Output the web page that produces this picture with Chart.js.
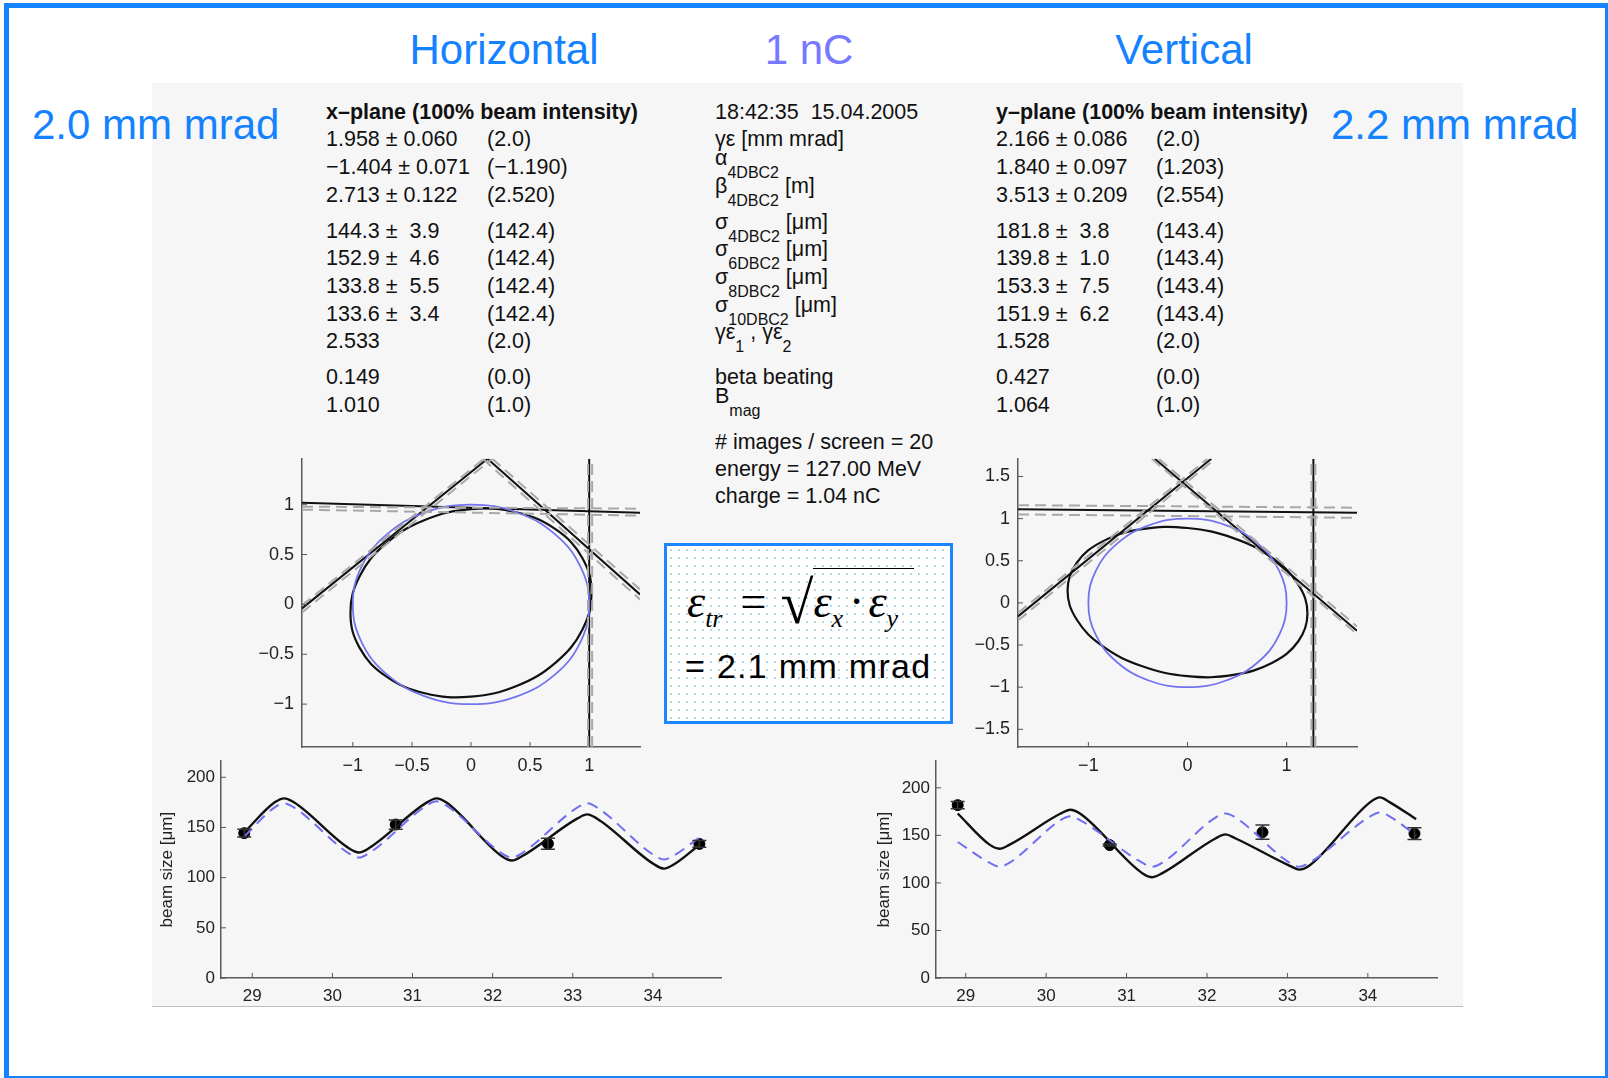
<!DOCTYPE html>
<html>
<head>
<meta charset="utf-8">
<title>Emittance 15.04.2005</title>
<script src="https://cdn.jsdelivr.net/npm/chart.js@4.4.1/dist/chart.umd.min.js"></script>
<style>
  html, body { margin: 0; padding: 0; }
  body { width: 1608px; height: 1078px; position: relative; overflow: hidden; background: #fff;
         font-family: "Liberation Sans", Arial, sans-serif; }
  #frame { position: absolute; left: 4px; top: 3px; width: 1606px; height: 1078px;
           border: 5px solid #1684ff; box-sizing: border-box; }
  #panel { position: absolute; left: 152px; top: 83px; width: 1311px; height: 923px;
           background: #f6f6f6; border-bottom: 1.5px solid #bdbdbd; }
  .big { position: absolute; font-size: 42px; line-height: 1; color: #1482ff; white-space: nowrap; }
  .t { position: absolute; font-size: 21.5px; line-height: 21px; color: #111; white-space: pre; }
  .t b { font-weight: bold; }
  .t sub { font-size: 16px; vertical-align: baseline; position: relative; top: 4px; }
  .r { position: relative; top: -9px; }
  canvas { position: absolute; }
  #box { position: absolute; left: 664px; top: 543px; width: 289px; height: 181px; box-sizing: border-box;
         border: 3px solid #1a86ff; background-color: #fff;
         background-image: radial-gradient(circle, #b2dae6 1.1px, transparent 1.5px); background-size: 8px 8px; }
  #f1 { position: absolute; left: 20px; top: 27px; font-family: "Liberation Serif", serif; font-size: 46px;
        line-height: 1; white-space: nowrap; color: #000; }
  #f1 i { font-style: italic; }
  .fs { font-size: 26px; font-style: italic; vertical-align: -10px; }
  .eq { margin: 0 14px 0 18px; }
  .rt { font-size: 60px; vertical-align: -6px; }
  .ov { border-top: 1.5px solid #000; padding-top: 7px; padding-right: 16px; }
  .dot { margin: 0 4px 0 6px; }
  #f2 { position: absolute; left: 18px; top: 103px; font-size: 34px; line-height: 1; letter-spacing: 1.3px;
        white-space: nowrap; color: #000; }
</style>
</head>
<body>
<div id="frame"></div>
<div id="panel"></div>

<div class="big" style="left:504px; top:29px; transform:translateX(-50%);">Horizontal</div>
<div class="big" style="left:809px; top:29px; transform:translateX(-50%); color:#7878ff;">1 nC</div>
<div class="big" style="left:1184px; top:29px; transform:translateX(-50%);">Vertical</div>
<div class="big" style="left:32px; top:104px;">2.0 mm mrad</div>
<div class="big" style="left:1331px; top:104px;">2.2 mm mrad</div>

<div id="box">
  <div id="f1"><i>ε</i><span class="fs">tr</span><span class="eq">=</span><span class="rt">√</span><span class="ov"><i>ε</i><span class="fs">x</span><span class="dot">·</span><i>ε</i><span class="fs">y</span></span></div>
  <div id="f2">= 2.1 mm mrad</div>
</div>

<canvas id="phx"></canvas>
<canvas id="phy"></canvas>
<canvas id="bsx"></canvas>
<canvas id="bsy"></canvas>

<script>
// ---- table text (values as printed on the fit output) ----
const rowY = [111, 138, 166, 194, 230, 257, 285, 313, 340, 376, 404];
const xVals = ['<b>x–plane (100% beam intensity)</b>', '1.958 ± 0.060', '−1.404 ± 0.071', '2.713 ± 0.122',
  '144.3 ±  3.9', '152.9 ±  4.6', '133.8 ±  5.5', '133.6 ±  3.4', '2.533', '0.149', '1.010'];
const xDesign = ['', '(2.0)', '(−1.190)', '(2.520)', '(142.4)', '(142.4)', '(142.4)', '(142.4)', '(2.0)', '(0.0)', '(1.0)'];
const yVals = ['<b>y–plane (100% beam intensity)</b>', '2.166 ± 0.086', '1.840 ± 0.097', '3.513 ± 0.209',
  '181.8 ±  3.8', '139.8 ±  1.0', '153.3 ±  7.5', '151.9 ±  6.2', '1.528', '0.427', '1.064'];
const yDesign = ['', '(2.0)', '(1.203)', '(2.554)', '(143.4)', '(143.4)', '(143.4)', '(143.4)', '(2.0)', '(0.0)', '(1.0)'];
const labels = ['18:42:35  15.04.2005', 'γε [mm mrad]',
  '<span class="r">α</span><sub>4DBC2</sub>',
  '<span class="r">β</span><sub>4DBC2</sub><span class="r"> [m]</span>',
  '<span class="r">σ</span><sub>4DBC2</sub><span class="r"> [μm]</span>',
  '<span class="r">σ</span><sub>6DBC2</sub><span class="r"> [μm]</span>',
  '<span class="r">σ</span><sub>8DBC2</sub><span class="r"> [μm]</span>',
  '<span class="r">σ</span><sub>10DBC2</sub><span class="r"> [μm]</span>',
  '<span class="r">γε</span><sub>1</sub><span class="r"> , γε</span><sub>2</sub>',
  'beta beating', '<span class="r">B</span><sub>mag</sub>'];
const infoY = [441, 468, 495];
const info = ['# images / screen = 20', 'energy = 127.00 MeV', 'charge = 1.04 nC'];

// ---- beam size at the four screens [m, µm] ----
const screenPos = [28.9, 30.79, 32.69, 34.58];
const xSigma = [144.3, 152.9, 133.8, 133.6];
const xSigmaErr = [3.9, 4.6, 5.5, 3.4];
const ySigma = [181.8, 139.8, 153.3, 151.9];
const ySigmaErr = [3.8, 1.0, 7.5, 6.2];

// fitted (solid) and design (dashed) beam envelope
const xOptS = [28.9, 29.28, 29.4, 29.52, 30.21, 30.33, 30.45, 31.18, 31.3, 31.42, 32.12, 32.24, 32.36, 33.06, 33.18, 33.3, 34.02, 34.14, 34.26, 34.6];
const xFitSize = [145, 175, 179, 175, 129, 125, 129, 175, 179, 175, 121, 117, 121, 159, 163, 159, 113, 109, 113, 134];
const xDesSize = [141, 170, 174, 170, 124, 120, 124, 172, 176, 172, 124, 120, 124, 170, 174, 170, 122, 118, 122, 141];
const yOptS = [28.9, 29.3, 29.42, 29.54, 30.18, 30.3, 30.42, 31.2, 31.32, 31.44, 32.11, 32.23, 32.35, 33.03, 33.15, 33.27, 34.03, 34.15, 34.27, 34.6];
const yFitSize = [173, 140, 136, 140, 173, 177, 173, 110, 106, 110, 147, 151, 147, 118, 114, 118, 185, 190, 185, 167];
const yDesSize = [143, 121, 117, 121, 166, 170, 166, 121, 117, 121, 169, 173, 169, 121, 117, 121, 170, 174, 170, 150];
const posTicks = [29, 30, 31, 32, 33, 34];
const sizeTicks = [0, 50, 100, 150, 200];

// ---- normalised phase space ----
const circleX = [1, 0.924, 0.707, 0.383, 0, -0.383, -0.707, -0.924, -1, -0.924, -0.707, -0.383, 0, 0.383, 0.707, 0.924, 1];
const circleY = [0, 0.383, 0.707, 0.924, 1, 0.924, 0.707, 0.383, 0, -0.383, -0.707, -0.924, -1, -0.924, -0.707, -0.383, 0];
const ellXx = [1.02, 0.942, 0.721, 0.391, 0, -0.391, -0.721, -0.942, -1.02, -0.942, -0.721, -0.391, 0, 0.391, 0.721, 0.942, 1.02];
const ellXy = [0.114, 0.466, 0.749, 0.921, 0.955, 0.846, 0.609, 0.283, -0.084, -0.436, -0.719, -0.891, -0.925, -0.816, -0.579, -0.253, 0.114];
const ellYx = [1.21, 1.118, 0.856, 0.463, 0, -0.463, -0.856, -1.118, -1.21, -1.118, -0.856, -0.463, 0, 0.463, 0.856, 1.118, 1.21];
const ellYy = [-0.129, 0.217, 0.533, 0.769, 0.889, 0.875, 0.730, 0.475, 0.149, -0.197, -0.513, -0.749, -0.869, -0.855, -0.710, -0.455, -0.129];
// screen lines [x1, y1, x2, y2] and their error band (dashed)
const xLines = [[-1.43, 1.02, 1.43, 0.92], [1.0, -1.43, 1.0, 1.46], [-1.43, -0.04, 0.14, 1.46], [0.14, 1.46, 1.43, 0.10]];
const xLinesErr = [[-1.43, 0.98, 1.43, 0.96], [-1.43, 0.95, 1.43, 0.89], [0.99, -1.43, 0.99, 1.46], [1.025, -1.43, 1.025, 1.46],
  [-1.43, -0.01, 0.11, 1.46], [-1.43, -0.08, 0.18, 1.46], [0.10, 1.46, 1.43, 0.05], [0.18, 1.46, 1.43, 0.15]];
const yLines = [[-1.71, 1.11, 1.71, 1.07], [1.27, -1.71, 1.27, 1.71], [-1.71, -0.16, 0.24, 1.71], [-0.33, 1.71, 1.71, -0.33]];
const yLinesErr = [[-1.71, 1.16, 1.71, 1.13], [-1.71, 1.05, 1.71, 1.01], [1.25, -1.71, 1.25, 1.71], [1.29, -1.71, 1.29, 1.71],
  [-1.71, -0.12, 0.20, 1.71], [-1.71, -0.21, 0.28, 1.71], [-0.36, 1.71, 1.71, -0.37], [-0.29, 1.71, 1.71, -0.28]];
const phxTicks = [-1, -0.5, 0, 0.5, 1];
const phyTicksX = [-1, 0, 1];
const phyTicksY = [-1.5, -1, -0.5, 0, 0.5, 1, 1.5];

// ---- text ----
function put(html, x, y) {
  if (!html) return;
  const d = document.createElement('div');
  d.className = 't';
  d.style.left = x + 'px';
  d.style.top = (y - 9) + 'px';
  d.innerHTML = html;
  document.body.appendChild(d);
}
rowY.forEach((y, i) => {
  put(xVals[i], 326, y); put(xDesign[i], 487, y);
  put(labels[i], 715, y);
  put(yVals[i], 996, y); put(yDesign[i], 1156, y);
});
infoY.forEach((y, i) => put(info[i], 715, y));

// ---- charts ----
const FONT = '"Liberation Sans", Arial, sans-serif';
const pts = (xs, ys) => xs.map((x, i) => ({ x, y: ys[i] }));
const seg = l => [{ x: l[0], y: l[1] }, { x: l[2], y: l[3] }];
const fmt = v => String(v).replace('-', '−');

// closed curve: pad both ends with the neighbouring point so the spline
// has proper tangents at the join, then hide the two padding segments
function loop(xs, ys) {
  const p = pts(xs, ys);
  const n = p.length;
  return { data: [p[n - 2], ...p, p[1]], last: n + 1 };
}

const innerTicks = {
  id: 'innerTicks',
  afterDraw(chart) {
    const { ctx, chartArea: a, scales: { x, y } } = chart;
    ctx.save();
    ctx.strokeStyle = '#555';
    ctx.lineWidth = 1;
    x.ticks.forEach(t => {
      const p = x.getPixelForValue(t.value);
      ctx.beginPath(); ctx.moveTo(p, a.bottom); ctx.lineTo(p, a.bottom - 5); ctx.stroke();
    });
    y.ticks.forEach(t => {
      const p = y.getPixelForValue(t.value);
      ctx.beginPath(); ctx.moveTo(a.left, p); ctx.lineTo(a.left + 5, p); ctx.stroke();
    });
    ctx.restore();
  }
};

const errorBars = {
  id: 'errorBars',
  afterDatasetsDraw(chart, args, opts) {
    if (!opts.err) return;
    const { ctx, scales: { x, y } } = chart;
    const data = chart.data.datasets[opts.dataset].data;
    ctx.save();
    ctx.strokeStyle = '#333';
    ctx.lineWidth = 1.5;
    opts.err.forEach((e, i) => {
      const px = x.getPixelForValue(data[i].x);
      const t = y.getPixelForValue(data[i].y + e), b = y.getPixelForValue(data[i].y - e);
      ctx.beginPath();
      ctx.moveTo(px, t); ctx.lineTo(px, b);
      ctx.moveTo(px - 7, t); ctx.lineTo(px + 7, t);
      ctx.moveTo(px - 7, b); ctx.lineTo(px + 7, b);
      ctx.stroke();
    });
    ctx.restore();
  }
};

function axis(pos, min, max, ticks, size, pad) {
  return {
    type: 'linear', position: pos, min, max,
    grid: { display: false, drawTicks: false },
    border: { display: true, color: '#5a5a5a', width: 1.5 },
    ticks: { color: '#222', padding: pad, autoSkip: false, maxRotation: 0,
             font: { size, family: FONT }, callback: v => fmt(v) },
    afterBuildTicks: s => { s.ticks = ticks.map(v => ({ value: v })); }
  };
}

// box = [left, top, width, height] of canvas; area = [left, top, right, bottom] of plot
function makeChart(id, box, area, datasets, xAxis, yAxis, extra) {
  const c = document.getElementById(id);
  c.width = box[2]; c.height = box[3];
  c.style.left = box[0] + 'px'; c.style.top = box[1] + 'px';
  xAxis.afterFit = s => { s.height = box[1] + box[3] - area[3]; };
  yAxis.afterFit = s => { s.width = area[0] - box[0]; };
  return new Chart(c, {
    type: 'scatter',
    data: { datasets },
    plugins: [innerTicks, errorBars],
    options: {
      responsive: false, animation: false, events: [],
      layout: { autoPadding: false, padding: { left: 0, bottom: 0, top: area[1] - box[1], right: box[0] + box[2] - area[2] } },
      plugins: { legend: { display: false }, tooltip: { enabled: false }, errorBars: extra || {} },
      elements: { point: { radius: 0 } },
      scales: { x: xAxis, y: yAxis }
    }
  });
}

function closedSet(xs, ys, color, width) {
  const l = loop(xs, ys);
  return {
    data: l.data, showLine: true, tension: 0.4, borderColor: color, borderWidth: width, pointRadius: 0,
    segment: { borderColor: ctx => (ctx.p0DataIndex === 0 || ctx.p1DataIndex === l.last) ? 'rgba(0,0,0,0)' : undefined }
  };
}

function phaseSets(ex, ey, lines, linesErr) {
  const sets = [];
  linesErr.forEach(l => sets.push({ data: seg(l), showLine: true, borderColor: '#a8a8a8', borderWidth: 2, borderDash: [11, 6], pointRadius: 0 }));
  sets.push(closedSet(circleX, circleY, '#7373ef', 1.8));
  sets.push(closedSet(ex, ey, '#111', 2.2));
  lines.forEach(l => sets.push({ data: seg(l), showLine: true, borderColor: '#111', borderWidth: 2, pointRadius: 0 }));
  return sets;
}

makeChart('phx', [240, 440, 420, 345], [302, 453, 640, 747],
  phaseSets(ellXx, ellXy, xLines, xLinesErr),
  axis('bottom', -1.43, 1.43, phxTicks, 18, 8),
  axis('left', -1.43, 1.46, phxTicks, 18, 8));

makeChart('phy', [950, 440, 420, 345], [1018, 453, 1357, 747],
  phaseSets(ellYx, ellYy, yLines, yLinesErr),
  axis('bottom', -1.71, 1.71, phyTicksX, 18, 8),
  axis('left', -1.71, 1.71, phyTicksY, 18, 8));

function sizeSets(s, fit, des, meas) {
  return [
    { data: pts(s, des), showLine: true, cubicInterpolationMode: 'monotone', borderColor: '#6f6ff0', borderWidth: 2, borderDash: [11, 7], pointRadius: 0 },
    { data: pts(s, fit), showLine: true, cubicInterpolationMode: 'monotone', borderColor: '#111', borderWidth: 2.4, pointRadius: 0 },
    { data: pts(screenPos, meas), showLine: false, pointRadius: 5.5, pointBackgroundColor: '#000', pointBorderColor: '#000' }
  ];
}
function sizeY(max) {
  const a = axis('left', 0, max, sizeTicks, 17, 6);
  a.title = { display: true, text: 'beam size [μm]', color: '#222', font: { size: 17, family: FONT }, padding: { top: 7, bottom: 0 } };
  return a;
}

makeChart('bsx', [150, 745, 590, 262], [221, 754, 721, 978],
  sizeSets(xOptS, xFitSize, xDesSize, xSigma),
  axis('bottom', 28.61, 34.85, posTicks, 17, 8), sizeY(216), { dataset: 2, err: xSigmaErr });

makeChart('bsy', [867, 745, 590, 262], [936, 754, 1437, 978],
  sizeSets(yOptS, yFitSize, yDesSize, ySigma),
  axis('bottom', 28.63, 34.86, posTicks, 17, 8), sizeY(228), { dataset: 2, err: ySigmaErr });
</script>
</body>
</html>
